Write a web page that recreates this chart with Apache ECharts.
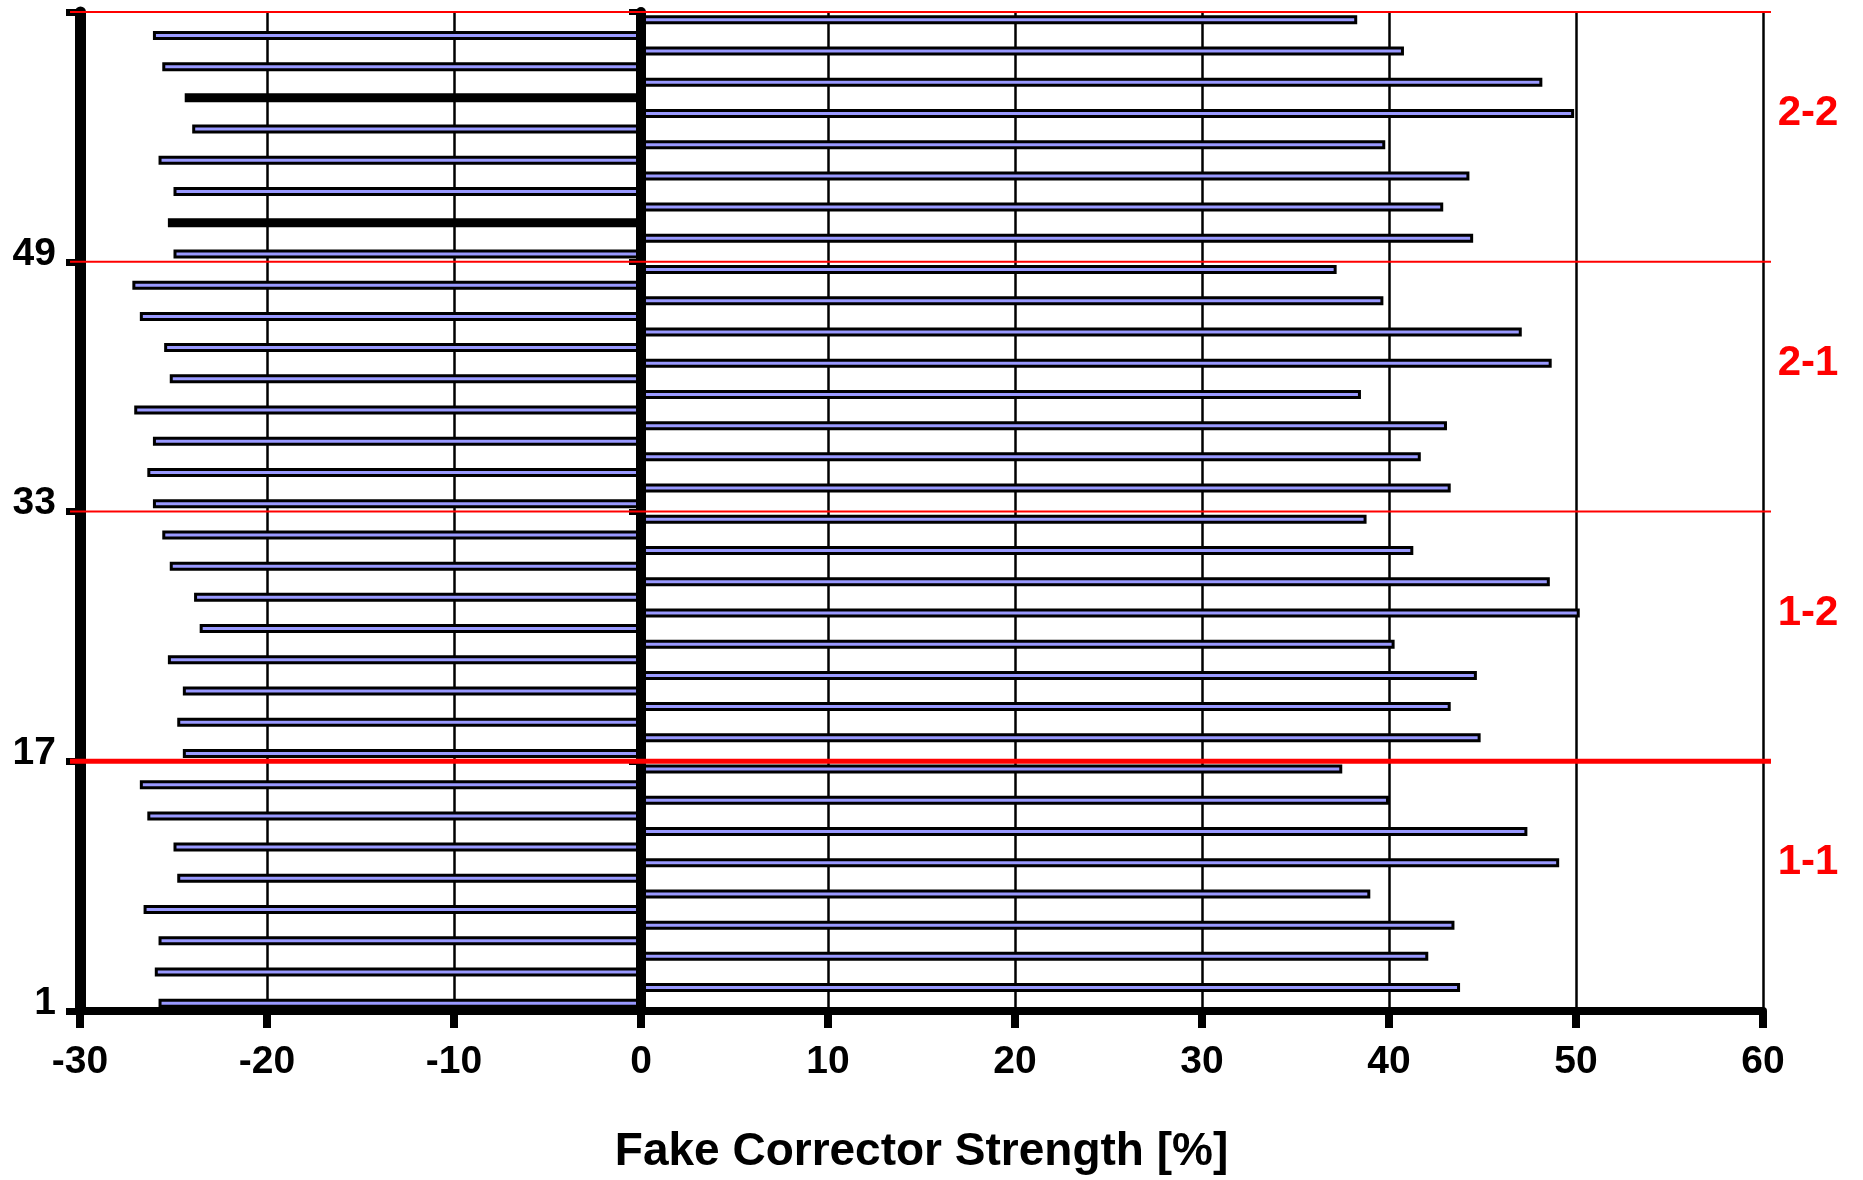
<!DOCTYPE html>
<html>
<head>
<meta charset="utf-8">
<script src="https://cdn.jsdelivr.net/npm/echarts@6/dist/echarts.min.js"></script>
<style>
html,body{margin:0;padding:0;background:#ffffff;}
#c{width:1863px;height:1180px;}
</style>
</head>
<body>
<div id="c"></div>
<script>
// ---------- data ----------
const categories = ['1','2','3','4','5','6','7','8','9','10','11','12','13','14','15','16',
  '17','18','19','20','21','22','23','24','25','26','27','28','29','30','31','32',
  '33','34','35','36','37','38','39','40','41','42','43','44','45','46','47','48',
  '49','50','51','52','53','54','55','56','57','58','59','60','61','62','63','64'];

// odd correctors (1,3,5,...,63) : negative strength
const negValues = [-25.8, -26.0, -25.8, -26.6, -24.8, -25.0, -26.4, -26.8,
                   -24.5, -24.8, -24.5, -25.3, -23.6, -23.9, -25.2, -25.6,
                   -26.1, -26.4, -26.1, -27.1, -25.2, -25.5, -26.8, -27.2,
                   -25.0, -25.3, -25.0, -25.8, -24.0, -24.4, -25.6, -26.1];
// even correctors (2,4,6,...,64) : positive strength
const posValues = [43.8, 42.1, 43.5, 39.0, 49.1, 47.4, 40.0, 37.5,
                   44.9, 43.3, 44.7, 40.3, 50.2, 48.6, 41.3, 38.8,
                   43.3, 41.7, 43.1, 38.5, 48.7, 47.1, 39.7, 37.2,
                   44.5, 42.9, 44.3, 39.8, 49.9, 48.2, 40.8, 38.3];

const yTickLabels = ['1', '17', '33', '49'];
const xTickLabels = ['-30', '-20', '-10', '0', '10', '20', '30', '40', '50', '60'];
const sectionNames = ['1-1', '1-2', '2-1', '2-2'];
const sectionStarts = ['1', '17', '33', '49'];   // first corrector of each section
const darkBars = ['51', '59'];                   // bars rendered solid black in the original

// ---------- build ----------
const FONT = '"Liberation Sans", Arial, Helvetica, sans-serif';
const barData = [];
for (let i = 0; i < negValues.length; i++) {
  barData.push(negValues[i], posValues[i]);
}
const barItems = barData.map((v, i) => {
  if (darkBars.indexOf(categories[i]) >= 0) {
    return { value: v, itemStyle: { color: '#000000' } };
  }
  return v;
});

// separators: lower boundary of sections 2..4, plus the top boundary
const sepData = sectionStarts.slice(1).map((s) => [0, categories.indexOf(s)]);
sepData.push([0, categories.length]);
const sepWidths = [5, 2.2, 2.2, 2.2];
const labelData = sectionStarts.map((s) => [0, categories.indexOf(s)]);

const chart = echarts.init(document.getElementById('c'), null, { renderer: 'canvas' });

const option = {
  animation: false,
  backgroundColor: '#ffffff',
  grid: { left: 80, right: 100, top: 12, bottom: 167, containLabel: false },
  xAxis: {
    type: 'value', min: -30, max: 60, interval: 10,
    axisLine: { show: true, onZero: false, lineStyle: { color: '#000', width: 8 } },
    axisTick: { show: true, length: 17, lineStyle: { color: '#000', width: 8 } },
    axisLabel: {
      color: '#000', fontFamily: FONT, fontWeight: 'bold', fontSize: 39, margin: 32,
      formatter: function (v) { const s = String(v); return xTickLabels.indexOf(s) >= 0 ? s : ''; }
    },
    splitLine: { show: true, lineStyle: { color: '#000', width: 2.5 } },
    name: 'Fake Corrector Strength [%]',
    nameLocation: 'middle', nameGap: 118,
    nameTextStyle: { color: '#000', fontFamily: FONT, fontWeight: 'bold', fontSize: 46 }
  },
  yAxis: [
    {
      type: 'category', data: categories, position: 'left', boundaryGap: true,
      axisLine: { show: true, onZero: false, lineStyle: { color: '#000', width: 11 } },
      axisTick: { show: true, interval: 15, length: 14, lineStyle: { color: '#000', width: 7 } },
      axisLabel: {
        interval: 15, color: '#000', fontFamily: FONT, fontWeight: 'bold', fontSize: 39, margin: 24,
        formatter: function (v) { return yTickLabels.indexOf(v) >= 0 ? v : ''; }
      },
      splitLine: { show: false }
    },
    {
      type: 'category', data: categories, position: 'left', boundaryGap: true, z: 5,
      axisLine: { show: true, onZero: true, lineStyle: { color: '#000', width: 10 } },
      axisTick: { show: true, interval: 15, length: 12, lineStyle: { color: '#000', width: 6 } },
      axisLabel: { show: false },
      splitLine: { show: false }
    }
  ],
  series: [
    {
      type: 'bar', xAxisIndex: 0, yAxisIndex: 0,
      data: barItems, barWidth: 9,
      itemStyle: { color: '#9999ff', borderColor: '#000000', borderWidth: 3 }
    },
    {
      type: 'custom', xAxisIndex: 0, yAxisIndex: 0, z: 10, silent: true,
      data: sepData,
      encode: { x: 0, y: 1 },
      renderItem: function (params, api) {
        const idx = api.value(1);
        const band = api.size([0, 1])[1];
        const y = api.coord([0, idx - 1])[1] - band / 2;
        const xl = api.coord([-30, 0])[0] - 10;
        const xr = api.coord([60, 0])[0] + 8;
        const w = sepWidths[params.dataIndex];
        return {
          type: 'line',
          shape: { x1: xl, y1: y, x2: xr, y2: y },
          style: { stroke: '#ff0000', lineWidth: w }
        };
      }
    },
    {
      type: 'custom', xAxisIndex: 0, yAxisIndex: 0, z: 10, silent: true,
      data: labelData,
      encode: { x: 0, y: 1 },
      renderItem: function (params, api) {
        const idx = api.value(1);
        const band = api.size([0, 1])[1];
        const y = api.coord([0, idx])[1] + band / 2 - band * 9.5;
        const x = api.coord([60, 0])[0] + 45;
        return {
          type: 'text',
          x: x, y: y,
          style: {
            text: sectionNames[params.dataIndex],
            fill: '#ff0000',
            fontFamily: FONT, fontWeight: 'bold', fontSize: 42,
            align: 'center', verticalAlign: 'middle'
          }
        };
      }
    }
  ]
};
chart.setOption(option);
</script>
</body>
</html>
